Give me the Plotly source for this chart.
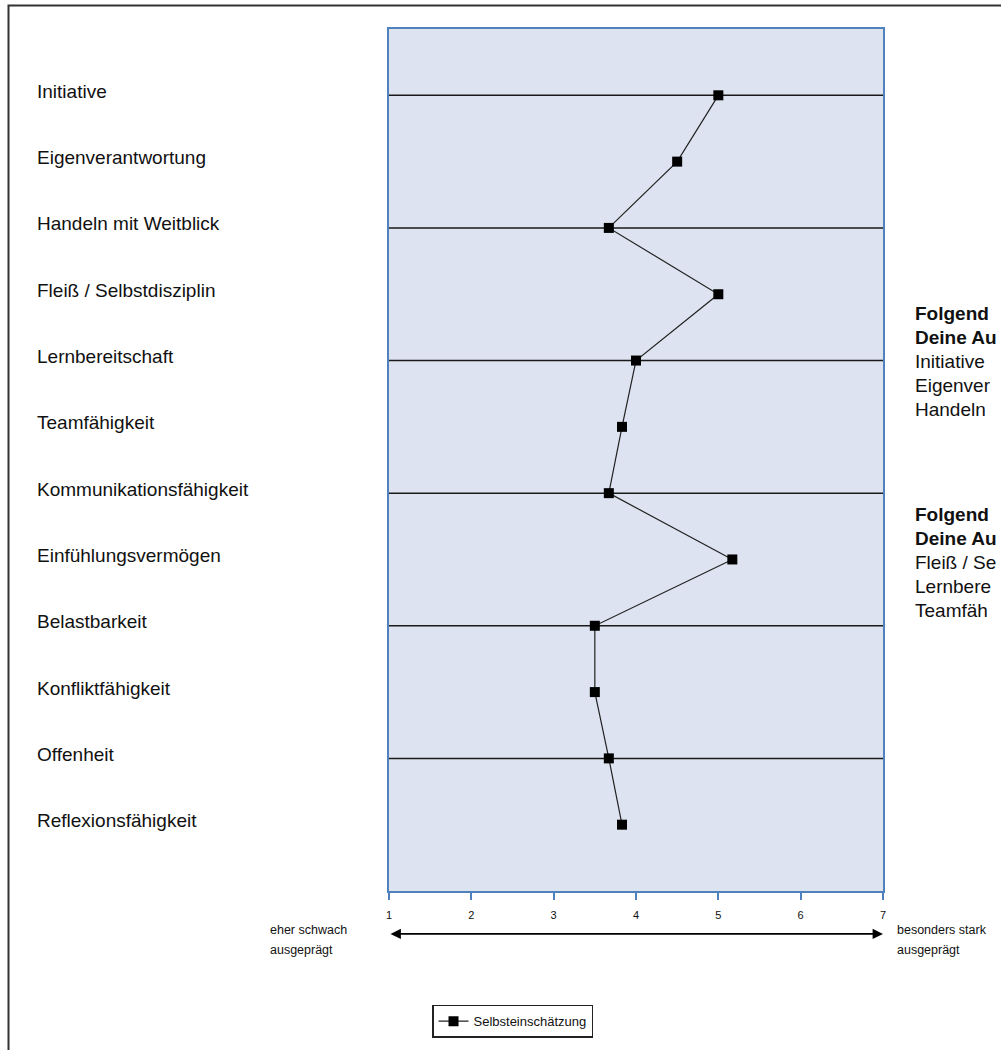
import plotly.graph_objects as go

categories = ["Initiative", "Eigenverantwortung", "Handeln mit Weitblick",
              "Fleiß / Selbstdisziplin", "Lernbereitschaft", "Teamfähigkeit",
              "Kommunikationsfähigkeit", "Einfühlungsvermögen", "Belastbarkeit",
              "Konfliktfähigkeit", "Offenheit", "Reflexionsfähigkeit"]
selbst = [5.0, 4.5, 3.67, 5.0, 4.0, 3.83, 3.67, 5.17, 3.5, 3.5, 3.67, 3.83]
x_ticks = [1, 2, 3, 4, 5, 6, 7]
series_name = "Selbsteinschätzung"
# right-hand text, as far as it is visible in the (cropped) reference
right_text_1 = ["<b>Folgend</b>", "<b>Deine Au</b>", "Initiative", "Eigenver", "Handeln"]
right_text_2 = ["<b>Folgend</b>", "<b>Deine Au</b>", "Fleiß / Se", "Lernbere", "Teamfäh"]

W, H = 1001, 1050
L, R, T, B = 389, 883, 29, 893
pw, ph = R - L, B - T

def px(x):
    return (x - L) / pw

def py(y):
    return (B - y) / ph

sans = "Liberation Sans, Arial, sans-serif"

fig = go.Figure()
fig.add_trace(go.Scatter(
    x=selbst, y=categories, mode="lines+markers", name=series_name,
    line=dict(color="#222222", width=1.2),
    marker=dict(symbol="square", size=10, color="black"),
    showlegend=True,
))

shapes = []
# horizontal reference lines at every other category
for c in categories[::2]:
    shapes.append(dict(type="line", xref="paper", x0=0, x1=1, yref="y", y0=c, y1=c,
                       line=dict(color="#1a1a1a", width=1.5), layer="below"))
# outer frame
shapes.append(dict(type="rect", xref="paper", yref="paper",
                   x0=px(8.5), x1=px(1010), y0=py(1060), y1=py(5.5),
                   line=dict(color="#333333", width=2), fillcolor="rgba(0,0,0,0)"))

annotations = []
for c in categories:
    annotations.append(dict(x=px(35), xref="paper", y=c, yref="y", text=c,
                            showarrow=False, xanchor="left", yanchor="middle", yshift=4,
                            font=dict(family=sans, size=19, color="#111111")))
# double-headed arrow
annotations.append(dict(x=7, y=py(936), xref="x", yref="paper",
                        ax=1, ay=0, axref="x", ayref="pixel",
                        showarrow=True, arrowhead=2, startarrowhead=2,
                        arrowside="end+start", arrowsize=1.3, arrowwidth=1.6,
                        arrowcolor="black", text=""))
for txt, xx, yy in (("eher schwach", 268, 932), ("ausgeprägt", 268, 952),
                    ("besonders stark", 895, 932), ("ausgeprägt", 895, 952)):
    annotations.append(dict(x=px(xx), y=py(yy), xref="paper", yref="paper",
                            text=txt, showarrow=False, xanchor="left", yanchor="middle",
                            font=dict(family=sans, size=12.5, color="#111111")))
for block, y0 in ((right_text_1, 314), (right_text_2, 516)):
    for i, line in enumerate(block):
        annotations.append(dict(x=px(913), y=py(y0 + 24 * i), xref="paper", yref="paper",
                                text=line, showarrow=False, xanchor="left", yanchor="middle",
                                font=dict(family=sans, size=19, color="#111111")))

fig.update_layout(
    width=W, height=H,
    margin=dict(l=L, r=W - R, t=T, b=H - B, pad=0),
    paper_bgcolor="white", plot_bgcolor="#dde3f0",
    shapes=shapes, annotations=annotations,
    legend=dict(x=px(432), y=py(1007), xanchor="left", yanchor="top",
                orientation="h", bordercolor="#222222", borderwidth=1.5,
                bgcolor="white", font=dict(family=sans, size=13, color="#111111"),
                itemwidth=30, tracegroupgap=0),
    xaxis=dict(range=[1, 7], tickvals=x_ticks, showgrid=False, zeroline=False,
               showline=True, mirror=True, linecolor="#4f81bd", linewidth=2,
               ticks="outside", ticklen=7, tickcolor="#4f81bd", tickwidth=1.5,
               tickfont=dict(family=sans, size=11, color="#111111"),
               ticklabelstandoff=6),
    yaxis=dict(type="category", categoryorder="array", categoryarray=categories,
               range=[12, -1], showgrid=False, zeroline=False, showticklabels=False,
               showline=True, mirror=True, linecolor="#4f81bd", linewidth=2),
)

fig.write_html("out.html", config={"displayModeBar": False},
               post_script="document.body.style.margin='0';")
